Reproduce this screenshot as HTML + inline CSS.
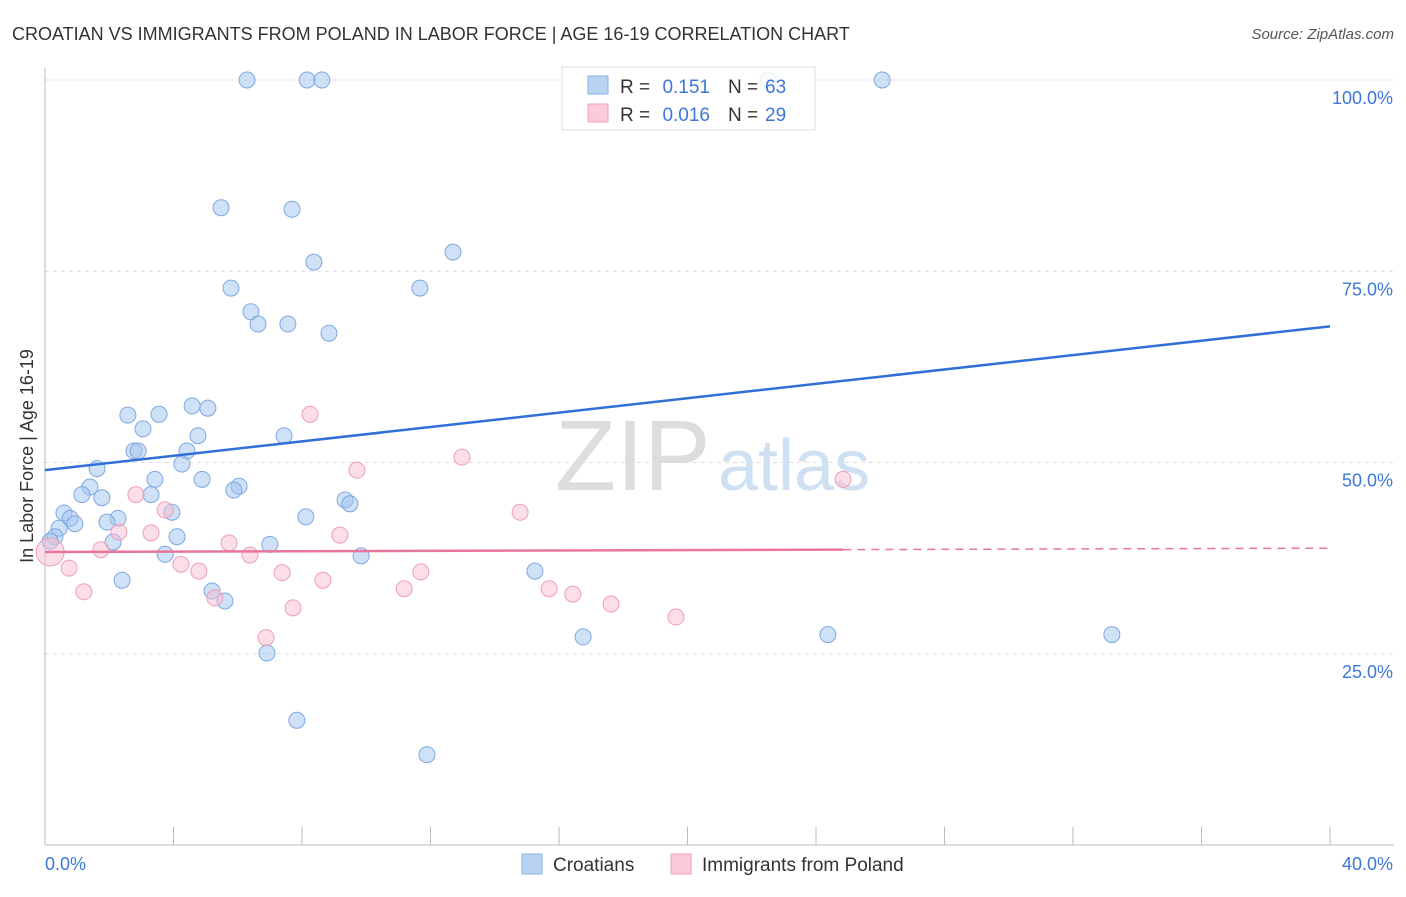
<!DOCTYPE html>
<html><head><meta charset="utf-8"><style>
body{margin:0;background:#fff;font-family:"Liberation Sans",sans-serif}
svg text{font-family:"Liberation Sans",sans-serif}
</style></head><body>
<svg id="c" width="1406" height="892">
<text x="12" y="40" font-size="18" fill="#333">CROATIAN VS IMMIGRANTS FROM POLAND IN LABOR FORCE | AGE 16-19 CORRELATION CHART</text>
<text x="1394" y="39" font-size="15" fill="#555" font-style="italic" text-anchor="end">Source: ZipAtlas.com</text>
<text x="33" y="456" font-size="18" fill="#333" text-anchor="middle" transform="rotate(-90 33 456)">In Labor Force | Age 16-19</text>
<text x="555" y="490" font-size="100" fill="#ddd" font-family="Liberation Serif">ZIP</text>
<text x="718" y="490" font-size="72" fill="#cfe0f3">atlas</text>
<g id="grid"></g><g id="pts"></g><g id="lines"></g>
<g>
<rect x="562" y="67" width="253" height="63" fill="#fff" fill-opacity="0.85" stroke="#ddd"/>
<rect x="588" y="76" width="20" height="18" fill="#b9d3f5" stroke="#8ab0e6"/>
<rect x="588" y="104" width="20" height="18" fill="#fbcbd9" stroke="#f0a0b8"/>
<text x="620" y="93" font-size="19" fill="#333">R =</text>
<text x="710" y="93" font-size="19" fill="#3c78d8" text-anchor="end">0.151</text>
<text x="728" y="93" font-size="19" fill="#333">N =</text>
<text x="765" y="93" font-size="19" fill="#3c78d8">63</text>
<text x="620" y="121" font-size="19" fill="#333">R =</text>
<text x="710" y="121" font-size="19" fill="#3c78d8" text-anchor="end">0.016</text>
<text x="728" y="121" font-size="19" fill="#333">N =</text>
<text x="765" y="121" font-size="19" fill="#3c78d8">29</text>
</g>
<g>
<rect x="522" y="854" width="20" height="20" fill="#b9d3f5" stroke="#8ab0e6"/>
<text x="553" y="871" font-size="19" fill="#333">Croatians</text>
<rect x="671" y="854" width="20" height="20" fill="#fbcbd9" stroke="#f0a0b8"/>
<text x="702" y="871" font-size="19" fill="#333">Immigrants from Poland</text>
</g>
</svg>
<script>
const yTicks=[25,50,75,100];
const yTickLabels=["25.0%","50.0%","75.0%","100.0%"];
const xTicks=[0,4,8,12,16,20,24,28,32,36,40];
const blueX=[6.29,8.16,8.62,26.06,22.51,5.48,7.69,12.70,8.37,5.79,11.67,6.41,6.63,7.56,8.84,2.58,3.55,4.58,5.07,3.05,4.76,7.44,2.77,2.90,4.42,4.26,1.62,3.42,4.89,1.40,6.04,5.88,1.15,3.30,1.77,9.34,9.49,0.59,0.78,3.95,2.27,1.93,0.93,8.12,0.44,0.31,4.11,2.12,7.00,0.16,3.74,9.84,15.25,2.40,5.20,5.60,16.75,24.37,33.21,6.91,7.84,11.89];
const blueY=[100,100,100,100,100,83.3,83.1,77.5,76.2,72.8,72.8,69.7,68.1,68.1,66.9,56.2,56.3,57.4,57.1,54.4,53.5,53.5,51.5,51.5,51.5,49.8,49.2,47.8,47.8,46.8,46.9,46.4,45.8,45.8,45.4,45.1,44.6,43.4,42.7,43.5,42.7,42.2,42.0,42.9,41.4,40.3,40.3,39.6,39.3,39.7,38.0,37.8,35.8,34.6,33.2,31.9,27.2,27.5,27.5,25.1,16.3,11.8];
const pinkX=[0.16,0.75,1.21,1.74,2.30,2.83,3.30,3.74,4.23,4.79,5.29,5.73,6.38,6.88,7.38,7.72,8.25,8.65,9.18,9.71,11.18,11.70,12.98,14.79,15.69,16.43,17.62,19.64,24.84];
const pinkY=[38.3,36.2,33.1,38.6,40.9,45.8,40.8,43.8,36.7,35.8,32.3,39.5,37.9,27.1,35.6,31.0,56.3,34.6,40.5,49.0,33.5,35.7,50.7,43.5,33.5,32.8,31.5,29.8,47.8];
const blueLine=[49.0,67.8];
const pinkLine=[38.3,38.8];
const NS="http://www.w3.org/2000/svg";
const X=v=>45+v/40*1285, Y=v=>845-v/100*765;
function mk(t,a,p){const e=document.createElementNS(NS,t);for(const k in a)e.setAttribute(k,a[k]);p.appendChild(e);return e;}
const g=document.getElementById('grid');
yTicks.forEach((t,i)=>{
 const l=mk('line',{x1:45,x2:1394,y1:Y(t),y2:Y(t),stroke:'#ddd','stroke-dasharray':'4 4'},g);
 
 
 const tx=mk('text',{x:1393,y:Y(t)+24,'font-size':18,fill:'#3c78d8','text-anchor':'end'},g);
 tx.textContent=yTickLabels[i];
 
 
});
const ax=mk('line',{x1:45,x2:1394,y1:845,y2:845,stroke:'#bbb'},g);


const ay=mk('line',{x1:45,x2:45,y1:68,y2:845,stroke:'#bbb'},g);


xTicks.forEach(t=>{const l=mk('line',{x1:X(t),x2:X(t),y1:827,y2:845,stroke:'#bbb'},g);
 
 });
const x0=mk('text',{x:45,y:870,'font-size':18,fill:'#3c78d8'},g);x0.textContent='0.0%';


const x1=mk('text',{x:1393,y:870,'font-size':18,fill:'#3c78d8','text-anchor':'end'},g);x1.textContent='40.0%';


const p=document.getElementById('pts');
blueX.forEach((v,i)=>{const c=mk('circle',{cx:X(v),cy:Y(blueY[i]),r:8,fill:'rgba(160,196,240,0.5)',stroke:'#7ea8e0','stroke-width':1},p);
 
 });
pinkX.forEach((v,i)=>{const c=mk('circle',{cx:X(v),cy:Y(pinkY[i]),r:i==0?14:8,fill:'rgba(248,190,208,0.5)',stroke:'#ee9fb8','stroke-width':1},p);
 
 });
const L=document.getElementById('lines');
const bl=mk('line',{x1:X(0),y1:Y(blueLine[0]),x2:X(40),y2:Y(blueLine[1]),stroke:'#2f6fd6','stroke-width':2.5},L);


const xe=24.85, pe=pinkLine[0]+(pinkLine[1]-pinkLine[0])*xe/40;
const pl=mk('line',{x1:X(0),y1:Y(pinkLine[0]),x2:X(xe),y2:Y(pe),stroke:'#e8769b','stroke-width':2.5},L);


const pd=mk('line',{x1:X(xe),y1:Y(pe),x2:X(40),y2:Y(pinkLine[1]),stroke:'#e8769b','stroke-width':1.5,'stroke-dasharray':'8 6'},L);


</script>
</body></html>
